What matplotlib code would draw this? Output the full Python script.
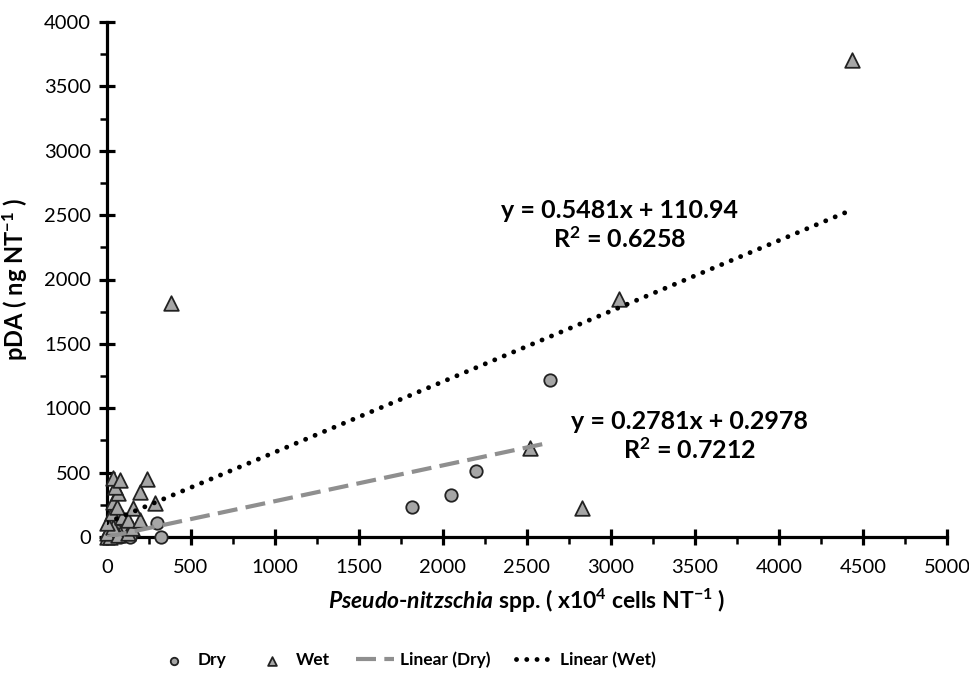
import numpy as np
import matplotlib
matplotlib.use("Agg")
import matplotlib.pyplot as plt
from matplotlib.ticker import MultipleLocator

# font setup
plt.rcParams["font.family"] = ["Lato", "DejaVu Sans"]
plt.rcParams["mathtext.fontset"] = "custom"
plt.rcParams["mathtext.rm"] = "Lato:bold"
plt.rcParams["mathtext.bf"] = "Lato:bold"
plt.rcParams["mathtext.it"] = "Lato:bold:italic"

# data
dry_x = [6, 20, 40, 60, 77, 100, 119, 136, 297, 320, 1815, 2046, 2194, 2639]
dry_y = [0, 30, 10, 50, 0, 40, 78, 0, 109, 0, 233, 326, 512, 1219]

wet_x = [0, 18, 0, 65, 36, 125, 148, 0, 30, 89, 125, 196, 36, 59, 154, 285,
         65, 47, 36, 77, 196, 237, 380, 2515, 2829, 3049, 4436]
wet_y = [0, 0, 31, 16, 78, 31, 70, 109, 186, 155, 132, 132, 272, 233, 225, 264,
         342, 388, 458, 443, 350, 450, 1817, 691, 225, 1849, 3705]

# trendline equations shown on the chart
dry_slope, dry_icpt, dry_r2 = 0.2781, 0.2978, 0.7212
wet_slope, wet_icpt, wet_r2 = 0.5481, 110.94, 0.6258

fig = plt.figure(figsize=(9.69, 6.8), dpi=100)
ax = fig.add_axes([107 / 969, 1 - 537 / 680, 840 / 969, 515 / 680])

marker_fill = "#a6a6a6"
ax.scatter(dry_x, dry_y, marker="o", s=80, facecolor=marker_fill,
           edgecolor="#222222", linewidth=1.3, clip_on=False, zorder=3, label="Dry")
ax.scatter(wet_x, wet_y, marker="^", s=110, facecolor=marker_fill,
           edgecolor="#222222", linewidth=1.3, clip_on=False, zorder=3, label="Wet")

xd = np.array([0, max(dry_x)])
ax.plot(xd, dry_slope * xd + dry_icpt, color="#8f8f8f", lw=3,
        linestyle=(0, (4.8, 2.0)), zorder=4, label="Linear (Dry)")
xw = np.array([0, max(wet_x)])
ax.plot(xw, wet_slope * xw + wet_icpt, color="black", lw=3.5,
        linestyle=(0, (0.01, 2.1)), dash_capstyle="round", zorder=4,
        label="Linear (Wet)")

ax.text(3050, 2420, f"y = {wet_slope}x + {wet_icpt}\nR$^2$ = {wet_r2}",
        ha="center", va="center", fontsize=18, fontweight="bold",
        linespacing=1.2)
ax.text(3465, 780, f"y = {dry_slope}x + {dry_icpt}\nR$^2$ = {dry_r2}",
        ha="center", va="center", fontsize=18, fontweight="bold",
        linespacing=1.2)

ax.set_xlim(0, 5000)
ax.set_ylim(0, 4000)
ax.xaxis.set_major_locator(MultipleLocator(500))
ax.xaxis.set_minor_locator(MultipleLocator(250))
ax.yaxis.set_major_locator(MultipleLocator(500))
ax.yaxis.set_minor_locator(MultipleLocator(250))

for side in ["top", "right"]:
    ax.spines[side].set_visible(False)
for side in ["left", "bottom"]:
    ax.spines[side].set_linewidth(2.3)
    ax.spines[side].set_color("black")

ax.tick_params(which="major", direction="inout", length=11, width=2.3,
               labelsize=14.5, pad=6)
ax.tick_params(axis="x", which="major", pad=10)
ax.tick_params(which="minor", direction="out", length=5, width=1.8)

ax.set_xlabel(r"$\it{Pseudo}$-$\it{nitzschia}$ spp. ( x10$^4$ cells NT$^{-1}$ )",
              fontsize=16.5, fontweight="bold", labelpad=8)
ax.set_ylabel(r"pDA ( ng NT$^{-1}$ )", fontsize=17, fontweight="bold",
              labelpad=10)

leg = fig.legend(loc="center", bbox_to_anchor=(405 / 969, 1 - 660 / 680),
                 ncol=4, frameon=False, prop={"weight": "bold", "size": 12.5},
                 markerscale=0.6, handlelength=2.2, handletextpad=0.3,
                 columnspacing=1.5)

fig.savefig("out.png", dpi=100)
plt.close(fig)
